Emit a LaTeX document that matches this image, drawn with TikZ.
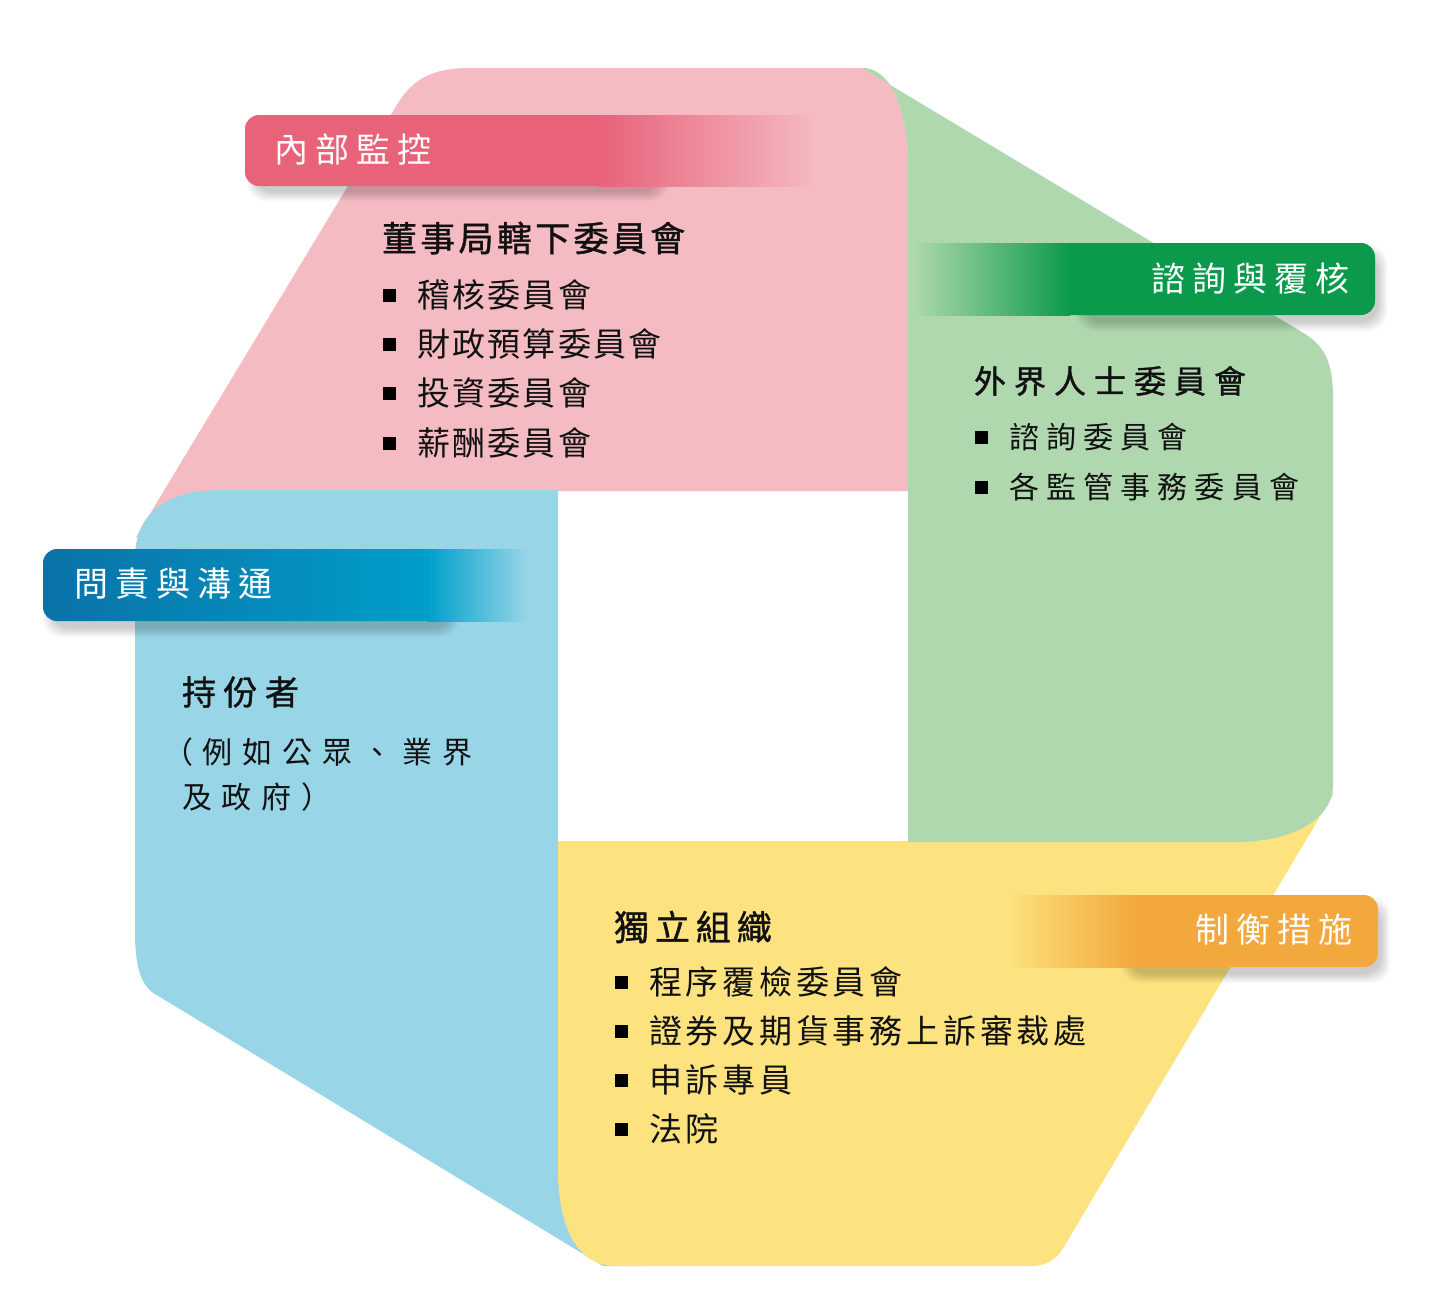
\documentclass[tikz,border=0pt]{standalone}
\usepackage{fontspec}
\setmainfont{Noto Sans CJK TC}
\newfontfamily\cjkb[FakeBold=1.2]{Noto Sans CJK TC}
\definecolor{pinkbg}{HTML}{F4BBC3}
\definecolor{greenbg}{HTML}{AFD8AF}
\definecolor{bluebg}{HTML}{98D5E7}
\definecolor{yellowbg}{HTML}{FDE37F}
\definecolor{labpink}{HTML}{E8627A}
\definecolor{labblueL}{HTML}{0B72A8}
\definecolor{labblueR}{HTML}{00A0CB}
\definecolor{labgreen}{HTML}{0B9A4C}
\definecolor{laborange}{HTML}{F2A83C}
\definecolor{textblack}{HTML}{111111}
\newcommand\lblshadow[4]{%
  \foreach \k in {0,...,9}{%
    \fill[black,opacity=0.02,rounded corners=9pt] (#1-\k,#2-\k) rectangle (#3+\k,#4+\k);}}
\tikzset{
  txt/.style={anchor=west, inner sep=0pt, outer sep=0pt, text=textblack},
  pinkhead/.style={txt, font=\cjkb\fontsize{17.5pt}{20pt}\selectfont\addfontfeature{LetterSpace=9.5}},
  pinkitem/.style={txt, font=\fontsize{16.5pt}{20pt}\selectfont\addfontfeature{LetterSpace=7}},
  greenhead/.style={txt, font=\cjkb\fontsize{16pt}{20pt}\selectfont\addfontfeature{LetterSpace=25}},
  greenitem/.style={txt, font=\fontsize{15pt}{20pt}\selectfont\addfontfeature{LetterSpace=24}},
  bluehead/.style={txt, font=\cjkb\fontsize{17pt}{20pt}\selectfont\addfontfeature{LetterSpace=22}},
  bluetext/.style={txt, align=left, font=\fontsize{15pt}{22.5pt}\selectfont\addfontfeature{LetterSpace=33}},
  yellowhead/.style={txt, font=\cjkb\fontsize{17.5pt}{20pt}\selectfont\addfontfeature{LetterSpace=17}},
  yellowitem/.style={txt, font=\fontsize{16.5pt}{20pt}\selectfont\addfontfeature{LetterSpace=11.5}},
  labtxt/.style={txt, text=white, font=\fontsize{17pt}{20pt}\selectfont\addfontfeature{LetterSpace=21}},
  bul/.style={fill=black, draw=none, inner sep=0pt, minimum size=6.5pt}
}
\begin{document}
\begin{tikzpicture}[x=0.5pt,y=-0.5pt]
\useasboundingbox (0,0) rectangle (1440,1312);
\fill[white] (0,0) rectangle (1440,1312);
% regions
\fill[pinkbg] (136,537) -- (395,108) .. controls (410,82) and (428,68) .. (470,68) -- (862,68)
  .. controls (893,68) and (908,115) .. (908,165) -- (908,491) -- (300,491) -- (300,537) -- cycle;
\fill[bluebg] (135,558) .. controls (135,512) and (168,490) .. (222,490) -- (558,490) -- (558,842)
  -- (640,842) -- (640,1266) -- (603,1266) -- (155,994) .. controls (140,985) and (135,965) .. (135,930) -- cycle;
\fill[yellowbg] (558,841) -- (1220,841) -- (1220,793) -- (1334,793) -- (1068,1240)
  .. controls (1058,1258) and (1050,1266) .. (1030,1266) -- (615,1266)
  .. controls (578,1266) and (558,1228) .. (558,1170) -- cycle;
\fill[greenbg] (862,68) -- (1305,334) .. controls (1326,347) and (1333,365) .. (1333,398) -- (1333,785)
  .. controls (1333,818) and (1295,842) .. (1235,842) -- (908,842) -- (908,165)
  .. controls (908,115) and (893,68) .. (862,68) -- cycle;
% label shadows
\lblshadow{256}{128}{660}{192}
\lblshadow{52}{562}{450}{628}
\lblshadow{1085}{254}{1378}{322}
\lblshadow{1130}{906}{1381}{974}
% labels
\fill[labpink, rounded corners=7pt] (245,115) rectangle (640,186);
\shade[left color=labpink, right color=pinkbg] (598,115) rectangle (818,186);
\shade[left color=labblueL, right color=labblueR, rounded corners=7pt] (43,549) rectangle (445,621);
\shade[left color=labblueR, right color=bluebg] (428,549) rectangle (528,621);
\fill[labgreen, rounded corners=7pt] (1050,243) rectangle (1375,315);
\shade[left color=greenbg, right color=labgreen] (913,243) rectangle (1070,315);
\fill[laborange, rounded corners=7pt] (1120,895) rectangle (1378,967);
\shade[left color=yellowbg, right color=laborange] (1005,895) rectangle (1135,967);
\node[labtxt] (l1) at (274,150) {內部監控};
\node[labtxt] (l2) at (74,584) {問責與溝通};
\node[labtxt] (l3) at (1151,279) {諮詢與覆核};
\node[labtxt] (l4) at (1195,930) {制衡措施};
% pink text
\node[pinkhead] (ph) at (382,238) {董事局轄下委員會};
\node[bul] (pb1) at (389.5,295) {};
\node[bul] (pb2) at (389.5,344) {};
\node[bul] (pb3) at (389.5,393) {};
\node[bul] (pb4) at (389.5,443) {};
\node[pinkitem] (pi1) at (417,295) {稽核委員會};
\node[pinkitem] (pi2) at (417,344) {財政預算委員會};
\node[pinkitem] (pi3) at (417,393) {投資委員會};
\node[pinkitem] (pi4) at (417,443) {薪酬委員會};
% green text
\node[greenhead] (gh) at (974,381) {外界人士委員會};
\node[bul] (gb1) at (981.5,437) {};
\node[bul] (gb2) at (981.5,487) {};
\node[greenitem] (gi1) at (1009,437) {諮詢委員會};
\node[greenitem] (gi2) at (1009,487) {各監管事務委員會};
% blue text
\node[bluehead] (bh) at (182,692) {持份者};
\node[bluetext] (bt) at (182,774.5) {\hspace*{-9.5pt}（例如公眾、業界\\及政府）};
% yellow text
\node[yellowhead] (yh) at (614,927) {獨立組織};
\node[bul] (yb1) at (621.5,982) {};
\node[bul] (yb2) at (621.5,1031) {};
\node[bul] (yb3) at (621.5,1080) {};
\node[bul] (yb4) at (621.5,1129) {};
\node[yellowitem] (yi1) at (649,982) {程序覆檢委員會};
\node[yellowitem] (yi2) at (649,1031) {證券及期貨事務上訴審裁處};
\node[yellowitem] (yi3) at (649,1080) {申訴專員};
\node[yellowitem] (yi4) at (649,1129) {法院};
\end{tikzpicture}
\end{document}
